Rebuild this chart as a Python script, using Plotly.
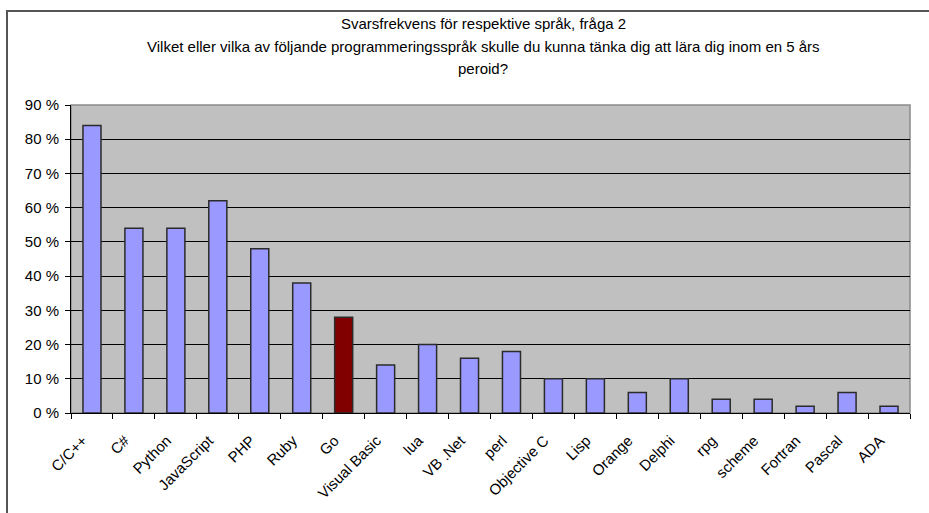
import plotly.graph_objects as go

languages = ["C/C++", "C#", "Python", "JavaScript", "PHP", "Ruby", "Go", "Visual Basic",
             "lua", "VB .Net", "perl", "Objective C", "Lisp", "Orange", "Delphi", "rpg",
             "scheme", "Fortran", "Pascal", "ADA"]
percent = [84, 54, 54, 62, 48, 38, 28, 14, 20, 16, 18, 10, 10, 6, 10, 4, 4, 2, 6, 2]
highlight = "Go"

title_lines = [
    "Svarsfrekvens för respektive språk, fråga 2",
    "Vilket eller vilka av följande programmeringsspråk skulle du kunna tänka dig att lära dig inom en 5 års",
    "peroid?",
]

colors = ["#800000" if l == highlight else "#9999FF" for l in languages]

fig = go.Figure(go.Bar(
    x=languages, y=percent, width=0.43,
    marker=dict(color=colors, line=dict(color="#2b2b2b", width=1.5)),
))

FONT = "Liberation Sans, Arial, sans-serif"
L, R, T, B = 71, 19, 105, 100
W, H = 929, 513
pw, ph = W - L - R, H - T - B

def px(xp):
    return (xp - L) / pw

def py(yp):
    return (H - B - yp) / ph

annotations = []
for line, ypix in zip(title_lines, [23, 46, 68]):
    annotations.append(dict(
        text=line, xref="paper", yref="paper",
        x=px(483), y=py(ypix),
        xanchor="center", yanchor="middle", showarrow=False,
        font=dict(family=FONT, size=15, color="black"),
    ))

fig.update_layout(
    width=W, height=H,
    margin=dict(l=L, r=R, t=T, b=B),
    paper_bgcolor="white", plot_bgcolor="#C0C0C0",
    showlegend=False,
    annotations=annotations,
    font=dict(family=FONT, size=14, color="black"),
    modebar=dict(bgcolor="rgba(0,0,0,0)"),
    shapes=[
        dict(type="line", xref="paper", yref="paper", x0=px(6), x1=px(929),
             y0=py(11), y1=py(11), line=dict(color="#555555", width=2), layer="above"),
        dict(type="line", xref="paper", yref="paper", x0=px(7), x1=px(7),
             y0=py(513), y1=py(10), line=dict(color="#555555", width=2), layer="above"),
        dict(type="rect", xref="paper", yref="paper", x0=0, x1=1, y0=0, y1=1,
             line=dict(color="#8a8a8a", width=1.5), fillcolor="rgba(0,0,0,0)", layer="below"),
    ],
)
fig.update_xaxes(
    type="category", tickson="boundaries", ticks="outside", ticklen=5, tickcolor="black",
    showline=True, linecolor="black", linewidth=1, showgrid=False,
    tickangle=-45, tickfont=dict(family=FONT, size=15, color="black"),
    ticklabelshift=-9, ticklabelstandoff=12,
)
fig.update_yaxes(
    range=[0, 90], dtick=10, ticksuffix=" %", ticks="outside", ticklen=5, tickcolor="black",
    showline=True, linecolor="black", linewidth=1,
    showgrid=True, gridcolor="black", gridwidth=1, zeroline=False,
    tickfont=dict(family=FONT, size=15, color="black"), ticklabelstandoff=3,
)

fig.write_html("out.html", config={"displayModeBar": False})
